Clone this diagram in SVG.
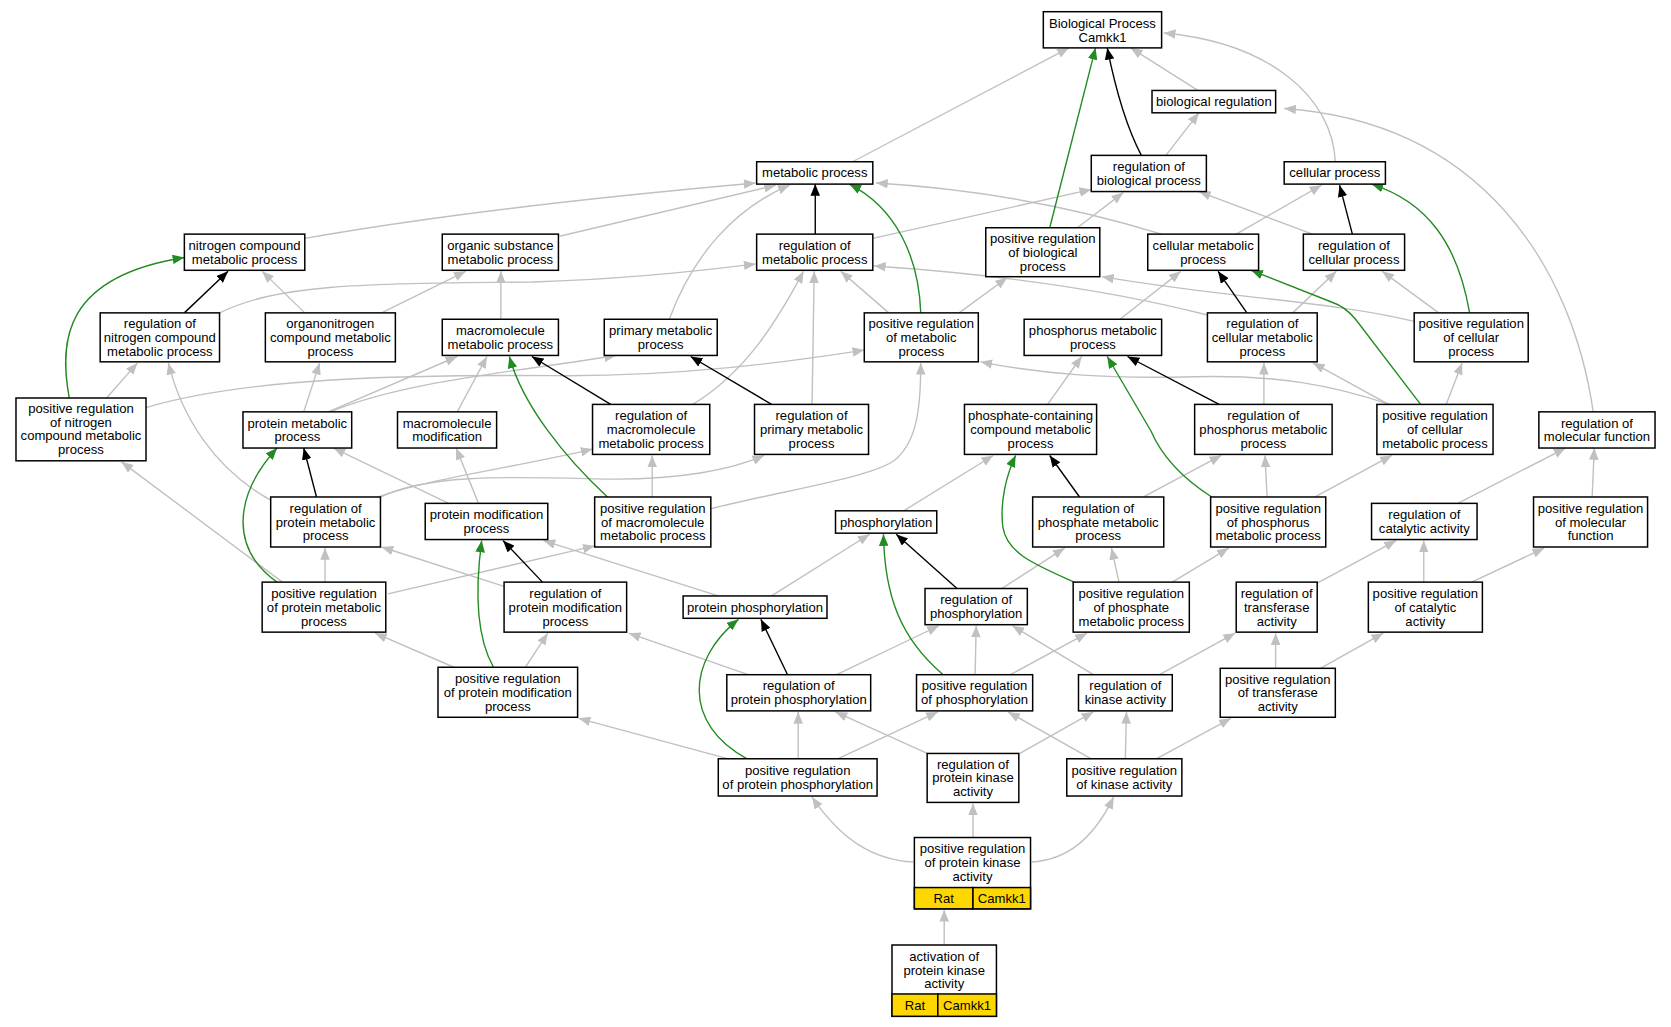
<svg xmlns="http://www.w3.org/2000/svg" width="1671" height="1027" viewBox="0 0 1671 1027">
<style>
.n rect{fill:#fff;stroke:#000;stroke-width:1.4}
.n text{font-family:"Liberation Sans",Arial,sans-serif;font-size:12.3px;text-anchor:middle;fill:#000}
.y{fill:#ffd700 !important}
.e path{fill:none;stroke-width:1.3}
.g{stroke:#c0c0c0}
.k{stroke:#000}
.gr{stroke:#228b22}
</style>
<defs>
<marker id="ag" viewBox="0 0 11 9" refX="11" refY="4.5" markerWidth="11" markerHeight="9" markerUnits="userSpaceOnUse" orient="auto"><path d="M0,0L11,4.5L0,9z" fill="#c0c0c0"/></marker>
<marker id="ak" viewBox="0 0 11 9" refX="11" refY="4.5" markerWidth="11" markerHeight="9" markerUnits="userSpaceOnUse" orient="auto"><path d="M0,0L11,4.5L0,9z" fill="#000"/></marker>
<marker id="agr" viewBox="0 0 11 9" refX="11" refY="4.5" markerWidth="11" markerHeight="9" markerUnits="userSpaceOnUse" orient="auto"><path d="M0,0L11,4.5L0,9z" fill="#228b22"/></marker>
</defs>
<rect width="1671" height="1027" fill="#fff"/>
<g transform="scale(1.0657,1.0642)">
<g id="edges" class="e">
<g marker-end="url(#ag)" class="g">
<path d="M800,152L1003,45"/>
<path d="M1124,85L1061,45"/>
<path d="M1253,152C1250,90 1190,40 1092,31"/>
<path d="M1094,146L1125,106"/>
<path d="M1495,387C1475,250 1390,115 1205,102"/>
<path d="M286,224Q450,195 709,172"/>
<path d="M525,222L728,174"/>
<path d="M628,300C650,240 690,195 741,174"/>
<path d="M1090,220Q960,180 822,172"/>
<path d="M819,224L1024,178"/>
<path d="M1011,214L1054,181"/>
<path d="M1234,221L1125,180"/>
<path d="M1160,220L1240,174"/>
<path d="M286,294L246,255"/>
<path d="M358,294L437,255"/>
<path d="M470,300L470,255"/>
<path d="M206,294C260,268 330,266 500,265Q600,262 709,248"/>
<path d="M650,380C700,350 730,300 754,255"/>
<path d="M762,380L764,255"/>
<path d="M834,294L789,255"/>
<path d="M1133,296Q1000,262 820,250"/>
<path d="M900,294L945,261"/>
<path d="M1327,302C1250,283 1150,280 1034,260"/>
<path d="M1051,300L1108,255"/>
<path d="M1213,294L1254,255"/>
<path d="M1350,294L1297,255"/>
<path d="M100,374L129,341"/>
<path d="M254,470C200,440 170,390 158,341"/>
<path d="M285,387L300,341"/>
<path d="M308,387L429,335"/>
<path d="M310,387C380,358 480,350 578,334"/>
<path d="M429,387L457,335"/>
<path d="M137,383C230,355 380,352 520,353C640,354 740,340 811,329"/>
<path d="M667,478C740,460 820,448 840,432C860,415 864,385 864,341"/>
<path d="M1304,380C1250,362 1200,352 1120,354C1040,356 980,352 920,340"/>
<path d="M983,380L1015,335"/>
<path d="M1186,380L1186,341"/>
<path d="M1303,380L1232,341"/>
<path d="M1357,380L1372,341"/>
<path d="M265,547L114,434"/>
<path d="M421,473L313,421"/>
<path d="M449,473L428,421"/>
<path d="M355,467C400,450 480,440 556,422"/>
<path d="M355,468C400,445 480,448 560,450C640,452 690,440 717,428"/>
<path d="M612,467L612,428"/>
<path d="M848,480L932,428"/>
<path d="M1073,467L1146,428"/>
<path d="M1189,467L1187,428"/>
<path d="M1234,467L1306,428"/>
<path d="M1368,473L1469,421"/>
<path d="M1494,467L1496,421"/>
<path d="M305,547L305,515"/>
<path d="M473,551L358,514"/>
<path d="M674,560L510,508"/>
<path d="M364,558L558,513"/>
<path d="M724,560L816,502"/>
<path d="M940,553L999,515"/>
<path d="M1050,547L1043,515"/>
<path d="M1100,547L1153,515"/>
<path d="M1236,548L1310,508"/>
<path d="M1336,547L1336,508"/>
<path d="M1381,547L1449,515"/>
<path d="M426,627L352,595"/>
<path d="M493,627L514,595"/>
<path d="M702,634L590,595"/>
<path d="M785,634L881,588"/>
<path d="M915,634L916,588"/>
<path d="M1026,634L950,588"/>
<path d="M948,634L1020,595"/>
<path d="M1088,634L1159,595"/>
<path d="M1197,628L1197,595"/>
<path d="M1239,628L1298,595"/>
<path d="M687,714L543,675"/>
<path d="M749,713L749,669"/>
<path d="M870,708L784,669"/>
<path d="M786,713L880,669"/>
<path d="M1024,713L946,669"/>
<path d="M957,708L1026,669"/>
<path d="M1056,713L1057,669"/>
<path d="M1085,713L1155,675"/>
<path d="M857,810C820,808 790,790 762,749"/>
<path d="M913,787L913,755"/>
<path d="M968,810C1000,808 1025,790 1045,749"/>
<path d="M886,888L886,855"/>
</g>
<g marker-end="url(#ak)" class="k">
<path d="M1071,146Q1052,110 1039,45"/>
<path d="M765,220L765,173"/>
<path d="M1269,220L1257,174"/>
<path d="M173,294L214,255"/>
<path d="M573,380L499,335"/>
<path d="M724,380L648,335"/>
<path d="M1170,294L1143,255"/>
<path d="M1144,380L1058,335"/>
<path d="M297,467L285,421"/>
<path d="M1013,467L985,428"/>
<path d="M509,547L472,508"/>
<path d="M898,553L841,502"/>
<path d="M739,634L714,582"/>
</g>
<g marker-end="url(#agr)" class="gr">
<path d="M985,214L1028,45"/>
<path d="M864,294C862,240 840,195 797,173"/>
<path d="M1379,294C1368,230 1340,190 1287,173"/>
<path d="M65,374C55,320 60,260 173,242"/>
<path d="M1333,380L1272,300Q1262,288 1250,284L1174,254"/>
<path d="M570,467C530,430 490,380 478,335"/>
<path d="M1137,467Q1095,440 1080,405L1039,335"/>
<path d="M260,547C215,515 220,465 260,421"/>
<path d="M1008,547C970,530 945,520 941,495C938,470 945,445 953,428"/>
<path d="M463,627C448,600 445,560 452,508"/>
<path d="M885,634C845,600 830,560 829,502"/>
<path d="M701,713C640,680 645,620 693,582"/>
</g>
</g>
<g id="n_bp" class="n"><rect x="979" y="11" width="111" height="34"/><text x="1034.5" y="26">Biological Process</text><text x="1034.5" y="39">Camkk1</text></g>
<g id="n_bioreg" class="n"><rect x="1081" y="85" width="116" height="21"/><text x="1139" y="99.8">biological regulation</text></g>
<g id="n_metab" class="n"><rect x="710" y="152" width="109" height="21"/><text x="764.5" y="166.8">metabolic process</text></g>
<g id="n_regbio" class="n"><rect x="1024" y="146" width="108" height="34"/><text x="1078" y="160.8">regulation of</text><text x="1078" y="173.8">biological process</text></g>
<g id="n_cell" class="n"><rect x="1205" y="152" width="95" height="21"/><text x="1252.5" y="166.8">cellular process</text></g>
<g id="n_nitro" class="n"><rect x="173" y="220" width="113" height="34"/><text x="229.5" y="234.8">nitrogen compound</text><text x="229.5" y="247.8">metabolic process</text></g>
<g id="n_organic" class="n"><rect x="415" y="220" width="109" height="34"/><text x="469.5" y="234.8">organic substance</text><text x="469.5" y="247.8">metabolic process</text></g>
<g id="n_regmetab" class="n"><rect x="710" y="220" width="109" height="34"/><text x="764.5" y="234.8">regulation of</text><text x="764.5" y="247.8">metabolic process</text></g>
<g id="n_posregbio" class="n"><rect x="925" y="214" width="107" height="46"/><text x="978.5" y="228.3">positive regulation</text><text x="978.5" y="241.3">of biological</text><text x="978.5" y="254.3">process</text></g>
<g id="n_cellmetab" class="n"><rect x="1077" y="220" width="104" height="34"/><text x="1129" y="234.8">cellular metabolic</text><text x="1129" y="247.8">process</text></g>
<g id="n_regcell" class="n"><rect x="1223" y="220" width="95" height="34"/><text x="1270.5" y="234.8">regulation of</text><text x="1270.5" y="247.8">cellular process</text></g>
<g id="n_regnitro" class="n"><rect x="94" y="294" width="112" height="46"/><text x="150" y="308.3">regulation of</text><text x="150" y="321.3">nitrogen compound</text><text x="150" y="334.3">metabolic process</text></g>
<g id="n_orgnitro" class="n"><rect x="249" y="294" width="122" height="46"/><text x="310" y="308.3">organonitrogen</text><text x="310" y="321.3">compound metabolic</text><text x="310" y="334.3">process</text></g>
<g id="n_macro" class="n"><rect x="415" y="300" width="109" height="34"/><text x="469.5" y="314.8">macromolecule</text><text x="469.5" y="327.8">metabolic process</text></g>
<g id="n_primary" class="n"><rect x="567" y="300" width="106" height="34"/><text x="620" y="314.8">primary metabolic</text><text x="620" y="327.8">process</text></g>
<g id="n_posregmetab" class="n"><rect x="811" y="294" width="107" height="46"/><text x="864.5" y="308.3">positive regulation</text><text x="864.5" y="321.3">of metabolic</text><text x="864.5" y="334.3">process</text></g>
<g id="n_phosphorus" class="n"><rect x="961" y="300" width="129" height="34"/><text x="1025.5" y="314.8">phosphorus metabolic</text><text x="1025.5" y="327.8">process</text></g>
<g id="n_regcellmetab" class="n"><rect x="1133" y="294" width="103" height="46"/><text x="1184.5" y="308.3">regulation of</text><text x="1184.5" y="321.3">cellular metabolic</text><text x="1184.5" y="334.3">process</text></g>
<g id="n_posregcell" class="n"><rect x="1327" y="294" width="107" height="46"/><text x="1380.5" y="308.3">positive regulation</text><text x="1380.5" y="321.3">of cellular</text><text x="1380.5" y="334.3">process</text></g>
<g id="n_posregnitro" class="n"><rect x="15" y="374" width="122" height="59"/><text x="76" y="387.8">positive regulation</text><text x="76" y="400.8">of nitrogen</text><text x="76" y="413.8">compound metabolic</text><text x="76" y="426.8">process</text></g>
<g id="n_protmetab" class="n"><rect x="228" y="387" width="102" height="34"/><text x="279" y="401.8">protein metabolic</text><text x="279" y="414.8">process</text></g>
<g id="n_macromod" class="n"><rect x="373" y="387" width="93" height="34"/><text x="419.5" y="401.8">macromolecule</text><text x="419.5" y="414.8">modification</text></g>
<g id="n_regmacro" class="n"><rect x="556" y="380" width="110" height="47"/><text x="611" y="394.8">regulation of</text><text x="611" y="407.8">macromolecule</text><text x="611" y="420.8">metabolic process</text></g>
<g id="n_regprimary" class="n"><rect x="708" y="380" width="107" height="47"/><text x="761.5" y="394.8">regulation of</text><text x="761.5" y="407.8">primary metabolic</text><text x="761.5" y="420.8">process</text></g>
<g id="n_phosphate" class="n"><rect x="905" y="380" width="124" height="47"/><text x="967" y="394.8">phosphate-containing</text><text x="967" y="407.8">compound metabolic</text><text x="967" y="420.8">process</text></g>
<g id="n_regphosphorus" class="n"><rect x="1121" y="380" width="129" height="47"/><text x="1185.5" y="394.8">regulation of</text><text x="1185.5" y="407.8">phosphorus metabolic</text><text x="1185.5" y="420.8">process</text></g>
<g id="n_posregcellmetab" class="n"><rect x="1292" y="380" width="109" height="47"/><text x="1346.5" y="394.8">positive regulation</text><text x="1346.5" y="407.8">of cellular</text><text x="1346.5" y="420.8">metabolic process</text></g>
<g id="n_regmolfunc" class="n"><rect x="1444" y="387" width="109" height="34"/><text x="1498.5" y="401.8">regulation of</text><text x="1498.5" y="414.8">molecular function</text></g>
<g id="n_regprotmetab" class="n"><rect x="254" y="467" width="103" height="47"/><text x="305.5" y="481.8">regulation of</text><text x="305.5" y="494.8">protein metabolic</text><text x="305.5" y="507.8">process</text></g>
<g id="n_protmod" class="n"><rect x="399" y="473" width="115" height="34"/><text x="456.5" y="487.8">protein modification</text><text x="456.5" y="500.8">process</text></g>
<g id="n_posregmacro" class="n"><rect x="558" y="467" width="109" height="47"/><text x="612.5" y="481.8">positive regulation</text><text x="612.5" y="494.8">of macromolecule</text><text x="612.5" y="507.8">metabolic process</text></g>
<g id="n_phosphorylation" class="n"><rect x="784" y="480" width="95" height="21"/><text x="831.5" y="494.8">phosphorylation</text></g>
<g id="n_regphosphate" class="n"><rect x="969" y="467" width="123" height="47"/><text x="1030.5" y="481.8">regulation of</text><text x="1030.5" y="494.8">phosphate metabolic</text><text x="1030.5" y="507.8">process</text></g>
<g id="n_posregphosphorus" class="n"><rect x="1136" y="467" width="108" height="47"/><text x="1190" y="481.8">positive regulation</text><text x="1190" y="494.8">of phosphorus</text><text x="1190" y="507.8">metabolic process</text></g>
<g id="n_regcatal" class="n"><rect x="1287" y="473" width="99" height="34"/><text x="1336.5" y="487.8">regulation of</text><text x="1336.5" y="500.8">catalytic activity</text></g>
<g id="n_posregmolfunc" class="n"><rect x="1439" y="467" width="107" height="47"/><text x="1492.5" y="481.8">positive regulation</text><text x="1492.5" y="494.8">of molecular</text><text x="1492.5" y="507.8">function</text></g>
<g id="n_posregprotmetab" class="n"><rect x="246" y="547" width="116" height="47"/><text x="304" y="561.8">positive regulation</text><text x="304" y="574.8">of protein metabolic</text><text x="304" y="587.8">process</text></g>
<g id="n_regprotmod" class="n"><rect x="473" y="547" width="115" height="47"/><text x="530.5" y="561.8">regulation of</text><text x="530.5" y="574.8">protein modification</text><text x="530.5" y="587.8">process</text></g>
<g id="n_protphos" class="n"><rect x="641" y="560" width="135" height="21"/><text x="708.5" y="574.8">protein phosphorylation</text></g>
<g id="n_regphos" class="n"><rect x="868" y="553" width="96" height="34"/><text x="916" y="567.8">regulation of</text><text x="916" y="580.8">phosphorylation</text></g>
<g id="n_posregphosphate" class="n"><rect x="1007" y="547" width="109" height="47"/><text x="1061.5" y="561.8">positive regulation</text><text x="1061.5" y="574.8">of phosphate</text><text x="1061.5" y="587.8">metabolic process</text></g>
<g id="n_regtransf" class="n"><rect x="1160" y="547" width="76" height="47"/><text x="1198" y="561.8">regulation of</text><text x="1198" y="574.8">transferase</text><text x="1198" y="587.8">activity</text></g>
<g id="n_posregcatal" class="n"><rect x="1284" y="547" width="107" height="47"/><text x="1337.5" y="561.8">positive regulation</text><text x="1337.5" y="574.8">of catalytic</text><text x="1337.5" y="587.8">activity</text></g>
<g id="n_posregprotmod" class="n"><rect x="411" y="627" width="131" height="47"/><text x="476.5" y="641.8">positive regulation</text><text x="476.5" y="654.8">of protein modification</text><text x="476.5" y="667.8">process</text></g>
<g id="n_regprotphos" class="n"><rect x="682" y="634" width="135" height="34"/><text x="749.5" y="648.8">regulation of</text><text x="749.5" y="661.8">protein phosphorylation</text></g>
<g id="n_posregphos" class="n"><rect x="860" y="634" width="109" height="34"/><text x="914.5" y="648.8">positive regulation</text><text x="914.5" y="661.8">of phosphorylation</text></g>
<g id="n_regkinase" class="n"><rect x="1012" y="634" width="88" height="34"/><text x="1056" y="648.8">regulation of</text><text x="1056" y="661.8">kinase activity</text></g>
<g id="n_posregtransf" class="n"><rect x="1145" y="628" width="108" height="46"/><text x="1199" y="642.3">positive regulation</text><text x="1199" y="655.3">of transferase</text><text x="1199" y="668.3">activity</text></g>
<g id="n_posregprotphos" class="n"><rect x="674" y="713" width="149" height="35"/><text x="748.5" y="728.3">positive regulation</text><text x="748.5" y="741.3">of protein phosphorylation</text></g>
<g id="n_regprotkin" class="n"><rect x="870" y="708" width="86" height="46"/><text x="913" y="722.3">regulation of</text><text x="913" y="735.3">protein kinase</text><text x="913" y="748.3">activity</text></g>
<g id="n_posregkinase" class="n"><rect x="1001" y="713" width="108" height="35"/><text x="1055" y="728.3">positive regulation</text><text x="1055" y="741.3">of kinase activity</text></g>
<g id="n_posregprotkin" class="n"><rect x="858" y="787" width="109" height="67"/><rect class="y" x="858" y="834" width="55" height="20"/><rect class="y" x="913" y="834" width="54" height="20"/><text x="912.5" y="801.8">positive regulation</text><text x="912.5" y="814.8">of protein kinase</text><text x="912.5" y="827.8">activity</text><text x="885.5" y="848.3">Rat</text><text x="940" y="848.3">Camkk1</text></g>
<g id="n_activation" class="n"><rect x="837" y="888" width="98" height="67"/><rect class="y" x="837" y="934" width="43" height="21"/><rect class="y" x="880" y="934" width="55" height="21"/><text x="886" y="902.8">activation of</text><text x="886" y="915.8">protein kinase</text><text x="886" y="928.8">activity</text><text x="858.5" y="948.8">Rat</text><text x="907.5" y="948.8">Camkk1</text></g>
</g>
</svg>
